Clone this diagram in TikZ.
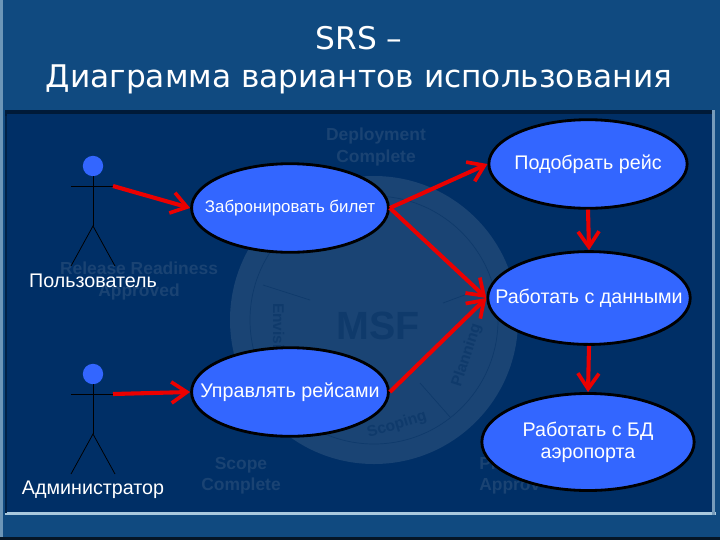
\documentclass[tikz,border=0pt]{standalone}
\usepackage{fontspec}
\setmainfont{Liberation Sans}
\newfontfamily\titlefont{DejaVu Sans}
\usetikzlibrary{arrows.meta,shapes.geometric}
\definecolor{slideblue}{HTML}{104A80}
\definecolor{panelblue}{HTML}{002F66}
\definecolor{caseblue}{HTML}{3366FF}
\definecolor{sealblue}{HTML}{1A4474}
\definecolor{sealline}{HTML}{0F3A6B}
\definecolor{marktext}{HTML}{1A4373}
\definecolor{edgelight}{HTML}{A9C9DE}

\begin{document}
\begin{tikzpicture}[
  x=0.025cm, y=-0.025cm,
  >={Straight Barb[length=11pt,width=15pt,line width=2.6pt]},
  usecase/.style={draw=black, line width=2pt, fill=caseblue, ellipse,
                  inner ysep=-6pt, inner xsep=-24pt, align=center, text=white, font=\fontsize{14}{15.6}\selectfont},
  head/.style={circle, fill=caseblue, minimum size=14.5pt, inner sep=0pt},
  limb/.style={draw=black, line width=0.55pt},
  actorname/.style={text=white, font=\fontsize{14}{16}\selectfont, inner sep=0pt},
  arr/.style={->, draw=red!92!black, line width=2.9pt},
  faintmark/.style={text=marktext, font=\fontsize{12.4}{15}\bfseries\selectfont, align=center, inner sep=0pt},
  seal/.style={text=sealline, font=\fontsize{11}{12}\bfseries\selectfont, inner sep=0pt},
]
\useasboundingbox (0,0) rectangle (720,540);

%% slide background
\fill[slideblue] (0,0) rectangle (720,540);
\fill[edgelight!60!slideblue] (0,0) rectangle (3,540);
\fill[black!70!slideblue] (0,537) rectangle (720,540);
\fill[black!45!panelblue] (5,110) rectangle (715,116);
\fill[edgelight] (5,512) rectangle (716,515);
\fill[edgelight!70!panelblue] (712,110) rectangle (715,515);
\fill[black!30!panelblue] (5,116) rectangle (7,513);
\fill[panelblue] (7,114) rectangle (712,512);

%% watermark
\fill[sealblue] (374,320) circle (144);
\draw[sealline, line width=0.5pt] (374,320) circle (124);
\draw[sealline, line width=0.5pt] (263,285) -- (310,300);
\draw[sealline, line width=0.5pt] (443,303) -- (470,293);
\draw[sealline, line width=0.5pt] (420,383) -- (450,417);
\node[text=sealline, font=\fontsize{28}{30}\bfseries\selectfont, inner sep=0pt] (msf) at (378,326) {MSF};
\node[seal, rotate=-90] (envision) at (277,347) {Envisioning};
\node[seal, rotate=72] (planning) at (467,355) {Planning};
\node[seal, rotate=17] (scoping) at (397,425) {Scoping};
\node[faintmark] (deploy) at (376,147) {Deployment\\Complete};
\node[faintmark] (release) at (139,281) {Release Readiness\\Approved};
\node[faintmark] (scope) at (241,476) {Scope\\Complete};
\node[faintmark, anchor=west, align=left] (plans) at (479,476) {Pr\\Approv};

%% title
\node[text=white, font=\titlefont\fontsize{22.2}{27}\selectfont, align=center, inner sep=0pt] (title) at (359,60)
  {SRS –\\Диаграмма вариантов использования};

%% use cases
\node[usecase, font=\fontsize{12}{16}\selectfont, minimum width=140pt, minimum height=63pt] (book) at (290,208) {Забронировать билет};
\node[usecase, minimum width=140pt, minimum height=63pt] (manage) at (290,392) {Управлять рейсами};
\node[usecase, minimum width=141pt, minimum height=63pt] (pick) at (588,164) {Подобрать рейс};
\node[usecase, minimum width=144pt, minimum height=66pt] (data) at (589,298) {Работать с данными};
\node[usecase, minimum width=151pt, minimum height=69pt] (base) at (588,442) {Работать с БД\\аэропорта};

%% user
\node[head] (userhead) at (93,166) {};
\coordinate (userhip) at (93,226);
\coordinate (userarm) at (113,186);
\draw[limb] (userhead) -- (userhip);
\draw[limb] (71,186) -- (userarm);
\draw[limb] (71,266) -- (userhip) -- (115,266);
\node[actorname] (user) at (93,281) {Пользователь};

%% admin
\node[head] (adminhead) at (93,374) {};
\coordinate (adminhip) at (93,434);
\coordinate (adminarm) at (113,394);
\draw[limb] (adminhead) -- (adminhip);
\draw[limb] (71,394) -- (adminarm);
\draw[limb] (71,474) -- (adminhip) -- (115,474);
\node[actorname] (admin) at (93,490) {Администратор};

%% links
\draw[arr] (userarm) -- (book.west);
\draw[arr] (adminarm) -- (manage.west);
\draw[arr] (book.east) -- (pick.west);
\draw[arr] (book.east) -- (data.west);
\draw[arr] (manage.east) -- (data.west);
\draw[arr] (pick.south) -- (data.north);
\draw[arr] (data.south) -- (base.north);

\end{tikzpicture}
\end{document}
